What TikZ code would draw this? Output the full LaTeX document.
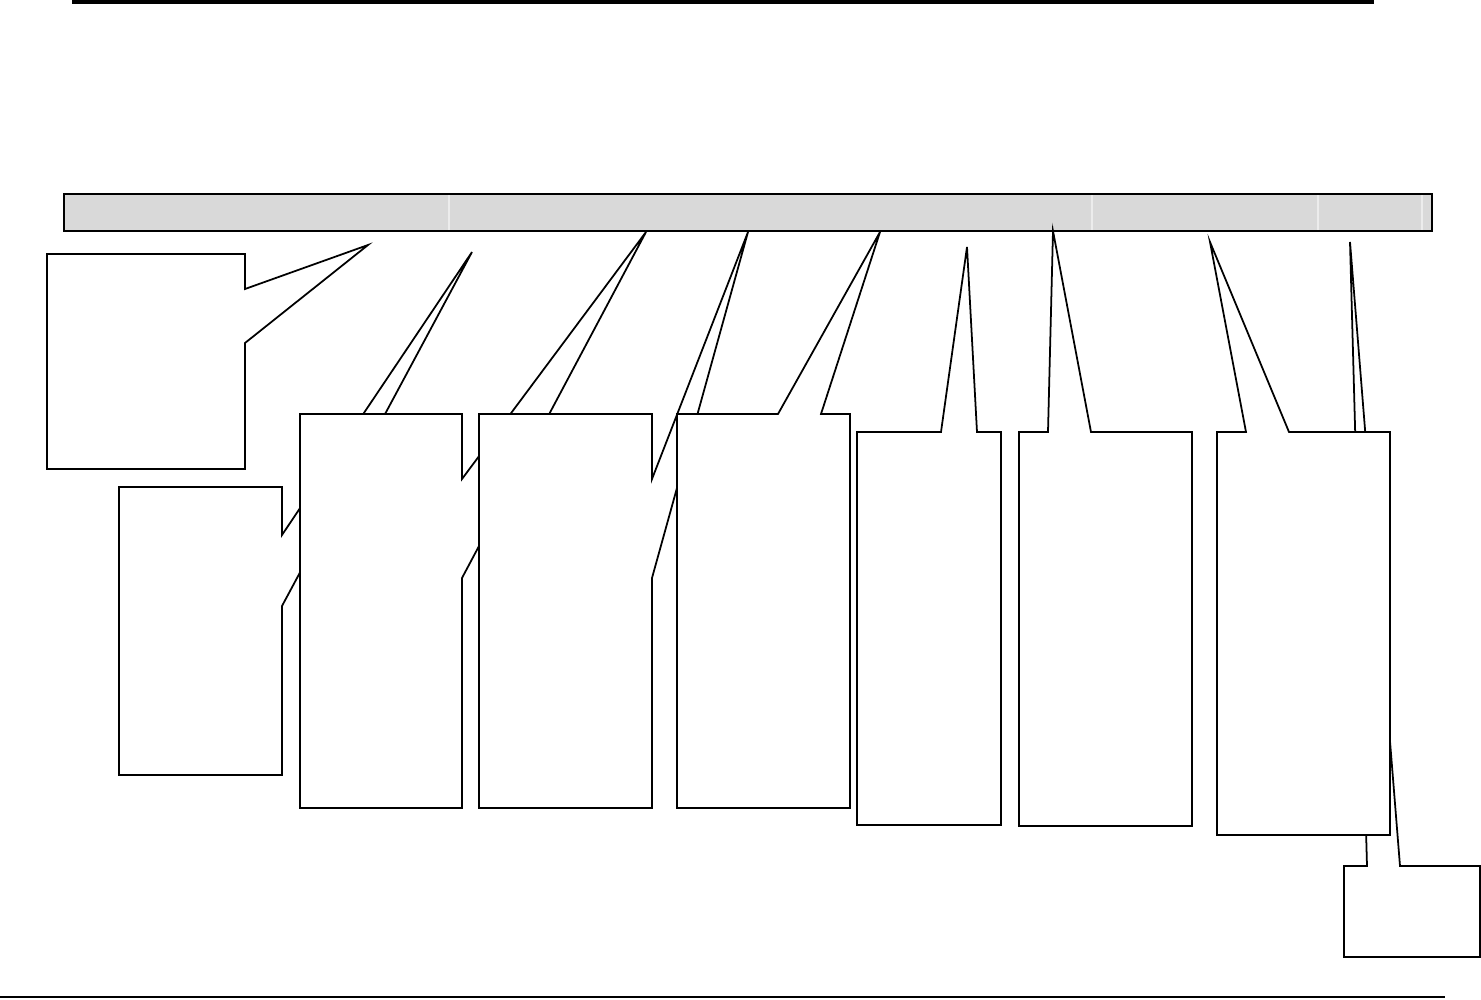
\documentclass[tikz,border=0pt]{standalone}
\usepackage{tikz}

\definecolor{barra}{RGB}{217,217,217}
\definecolor{divisor}{RGB}{236,236,236}

\begin{document}
\begin{tikzpicture}[x=0.01cm,y=-0.01cm,
	globo/.style={draw=black, fill=white, line width=0.5pt, line join=miter},
	raya/.style={draw=divisor, line width=0.35pt}]
	
	\useasboundingbox (0,0) rectangle (1481,1000);
	
	% Linea superior gruesa
	\draw[line width=1.15pt] (72,2) -- (1374,2);
	
	% Barra gris con divisiones
	\draw[fill=barra, line width=0.45pt] (64,194) rectangle (1432,231);
	\draw[raya] (449,195) -- (449,230);
	\draw[raya] (1092,195) -- (1092,230);
	\draw[raya] (1318,195) -- (1318,230);
	\draw[raya] (1422,195) -- (1422,230);
	
	% Globo inferior derecho (queda detras del globo 8)
	\filldraw[globo] (1344,866) -- (1367,866) -- (1350,242) -- (1400,866)
		-- (1480,866) -- (1480,957) -- (1344,957) -- cycle;
	
	% Globo 1
	\filldraw[globo] (47,254) -- (245,254) -- (245,289) -- (368,245) -- (245,343)
		-- (245,469) -- (47,469) -- cycle;
	
	% Globo 2
	\filldraw[globo] (119,487) -- (282,487) -- (282,535) -- (472,252) -- (282,606)
		-- (282,775) -- (119,775) -- cycle;
	
	% Globo 3
	\filldraw[globo] (300,414) -- (462,414) -- (462,479) -- (646,232) -- (462,578)
		-- (462,808) -- (300,808) -- cycle;
	
	% Globo 4
	\filldraw[globo] (479,414) -- (652,414) -- (652,479) -- (748,232) -- (652,578)
		-- (652,808) -- (479,808) -- cycle;
	
	% Globo 5
	\filldraw[globo] (677,414) -- (778,414) -- (880,232) -- (821,414)
		-- (850,414) -- (850,808) -- (677,808) -- cycle;
	
	% Globo 6
	\filldraw[globo] (857,432) -- (941,432) -- (967,247) -- (977,432)
		-- (1001,432) -- (1001,825) -- (857,825) -- cycle;
	
	% Globo 7
	\filldraw[globo] (1019,432) -- (1048,432) -- (1053,231) -- (1091,432)
		-- (1192,432) -- (1192,826) -- (1019,826) -- cycle;
	
	% Globo 8
	\filldraw[globo] (1217,432) -- (1246,432) -- (1210,242) -- (1289,432)
		-- (1390,432) -- (1390,835) -- (1217,835) -- cycle;
	
	% Linea inferior
	\draw[line width=0.45pt] (0,997) -- (1445,997);
	
\end{tikzpicture}
\end{document}
